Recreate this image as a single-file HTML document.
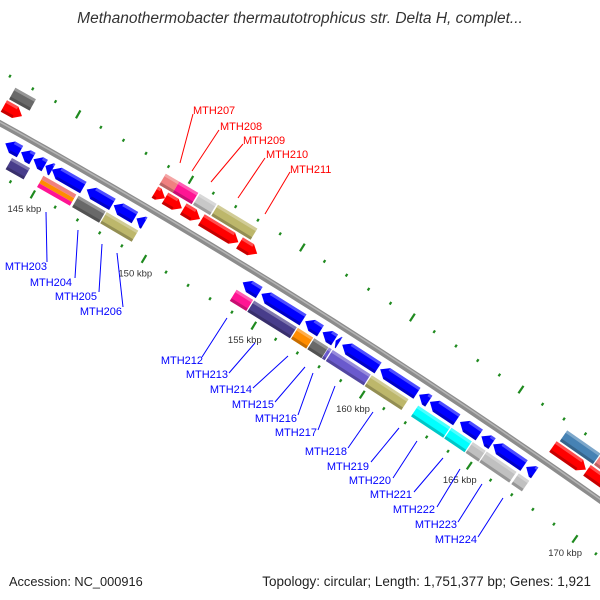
<!DOCTYPE html>
<html><head><meta charset="utf-8">
<style>
html,body{margin:0;padding:0;background:#fff;width:600px;height:600px;overflow:hidden;}
svg{display:block;overflow:hidden;}
text{font-family:"Liberation Sans",sans-serif;}
</style></head>
<body>
<svg id="map" width="600" height="600" viewBox="0 0 600 600" xmlns="http://www.w3.org/2000/svg">
<rect width="600" height="600" fill="#fff"/>
<text x="300" y="23" text-anchor="middle" font-size="15.5" font-style="italic" fill="#333">Methanothermobacter thermautotrophicus str. Delta H, complet...</text>
<g id="rulers"></g>
<g id="backbone"></g>
<g id="genes"></g>
<g id="labels"></g>
<text x="9" y="586" font-size="12.8" fill="#222">Accession: NC_000916</text>
<text x="591" y="586" text-anchor="end" font-size="13.5" fill="#222">Topology: circular; Length: 1,751,377 bp; Genes: 1,921</text>
</svg>
<script>
// ---- data (kbp) ----
const fwdCogStart = [142.4, 149.05, 149.65, 150.56, 151.38, 167.35, 168.95];
const fwdCogEnd   = [143.3, 149.65, 150.5, 151.32, 153.15, 168.9, 171.5];
const fwdCogColor = ["#696969","#F08080","#FF1493","#C8C8C8","#BDB76B","#4682B4","#F08080"];

const fwdStart = [142.35, 149.05, 149.5, 150.32, 151.13, 152.85, 167.25, 168.85];
const fwdEnd   = [143.15, 149.5, 150.26, 151.07, 152.8, 153.65, 168.8, 171.5];

const revStart = [143.1, 143.8, 144.35, 144.88, 145.17, 146.72, 147.93, 148.95, 153.75, 154.6, 156.6, 157.4, 158.0, 158.3, 160.05, 161.85, 162.35, 163.75, 164.75, 165.3, 166.85];
const revEnd   = [143.75, 144.3, 144.85, 145.18, 146.57, 147.87, 148.88, 149.3, 154.5, 156.5, 157.3, 157.95, 158.15, 159.95, 161.75, 162.3, 163.6, 164.65, 165.25, 166.75, 167.25];

const revCogStart = [143.6, 146.57, 147.83, 153.7, 154.5, 156.5, 157.25, 157.92, 158.1, 159.9, 162.05, 163.6, 164.6, 165.25, 166.75];
const revCogEnd   = [144.4, 147.78, 149.25, 154.45, 156.45, 157.2, 157.9, 158.05, 159.85, 161.6, 163.55, 164.55, 165.2, 166.65, 167.25];
const revCogColor = ["#483D8B","#696969","#BDB76B","#FF1493","#483D8B","#FF8C00","#696969","#6A5ACD","#6A5ACD","#BDB76B","#00FFFF","#00FFFF","#C0C0C0","#C0C0C0","#C0C0C0"];

const stripedStart = [145.0];
const stripedEnd = [146.47];
const stripeColors = ["#F08080","#FF8C00","#FF1493"];

const tickLabels = ["145 kbp","150 kbp","155 kbp","160 kbp","165 kbp","170 kbp"];
const tickLabelKbp = [145,150,155,160,165,170];

const fwdLabelNames = ["MTH207","MTH208","MTH209","MTH210","MTH211"];
const fwdLabelLine = [[180,163,193,114],[192,171,219,130],[211,182,243,144],[238,198,265,158],[265,214,290,172]];
const fwdLabelText = [[193,114],[220,130],[243,144],[266,158],[290,173]];

const revLabelNames = ["MTH203","MTH204","MTH205","MTH206","MTH212","MTH213","MTH214","MTH215","MTH216","MTH217","MTH218","MTH219","MTH220","MTH221","MTH222","MTH223","MTH224"];
const revLabelLine = [[47,262,46,212],[75,278,78,230],[99,292,102,244],[123,307,117,253],[202,357,227,318],[229,373,255,343],[253,388,288,356],[275,402,305,367],[298,415,313,373],[318,430,335,386],[348,448,373,412],[371,462,399,428],[393,478,417,441],[414,492,443,458],[437,507,460,469],[458,522,482,484],[478,537,503,498]];
const revLabelText = [[47,270],[72,286],[97,300],[122,315],[203,364],[228,378],[252,393],[274,408],[297,422],[317,436],[347,455],[369,470],[391,484],[412,498],[435,513],[457,528],[477,543]];

// ---- geometry ----
const CX=-3126, CY=5764, RB=6449;
function ang(k){ return (-60.44 + (k-145)*0.23)*Math.PI/180; }
function pt(k,r){ const a=ang(k); return [CX+r*Math.cos(a), CY+r*Math.sin(a)]; }
const NS="http://www.w3.org/2000/svg";
function mk(tag,attrs,parent){ const e=document.createElementNS(NS,tag); for(const k in attrs) e.setAttribute(k,attrs[k]); parent.appendChild(e); return e; }
function ptsStr(a){ return a.map(p=>p[0].toFixed(1)+","+p[1].toFixed(1)).join(" "); }

// rulers
const gR=document.getElementById('rulers');
[6495,6403].forEach(function(r){
  for(let k=138;k<=176;k++){
    const major=(k%5===0);
    const d=major?4.5:1.5;
    const a=pt(k,r-d), b=pt(k,r+d);
    const l=mk('line',{x1:a[0],y1:a[1],x2:b[0],y2:b[1],stroke:"#1f8a1f","stroke-width":2.2},gR);
    
    
  }
});
tickLabels.forEach(function(t,i){
  const p=pt(tickLabelKbp[i],6386);
  const e=mk('text',{x:p[0],y:p[1]+3,"text-anchor":"middle","font-size":"9.5",fill:"#333"},gR);
  e.textContent=t;
  
  
});

// backbone
const gB=document.getElementById('backbone');
let bb=[]; for(let k=138;k<=176;k+=0.5) bb.push(pt(k,RB));
const b1=mk('polyline',{points:ptsStr(bb),fill:"none",stroke:"#8c8c8c","stroke-width":6},gB);


let bb2=[]; for(let k=138;k<=176;k+=0.5) bb2.push(pt(k,RB+1));
const b2=mk('polyline',{points:ptsStr(bb2),fill:"none",stroke:"#b5b5b5","stroke-width":1.5},gB);



// genes
const gG=document.getElementById('genes');
function gene(s,e,rc,dir,color,name){
  const h=6.5, rIn=rc-h, rOut=rc+h;
  const len=e-s, head=Math.min(0.3,len*0.8);
  let poly;
  if(dir>0) poly=[pt(s,rIn),pt(s,rOut),pt(e-head,rOut),pt(e,rc),pt(e-head,rIn)];
  else if(dir<0) poly=[pt(e,rIn),pt(e,rOut),pt(s+head,rOut),pt(s,rc),pt(s+head,rIn)];
  else poly=[pt(s,rIn),pt(s,rOut),pt(e,rOut),pt(e,rIn)];
  const p=mk('polygon',{points:ptsStr(poly),fill:color},gG);
  
  
  let hi, sh;
  if(dir<0) hi=[pt(s+head,rOut-3),pt(s+head,rOut),pt(e,rOut),pt(e,rOut-3)];
  else if(dir>0) hi=[pt(s,rOut-3),pt(s,rOut),pt(e-head,rOut),pt(e-head,rOut-3)];
  else hi=[pt(s,rOut-3),pt(s,rOut),pt(e,rOut),pt(e,rOut-3)];
  const a=mk('polygon',{points:ptsStr(hi),fill:"#fff","fill-opacity":0.3},gG);
  
  
  if(dir>0) sh=[pt(s,rIn),pt(s,rIn+3),pt(e-head,rIn+3),pt(e-head,rIn)];
  else if(dir<0) sh=[pt(s+head,rIn),pt(s+head,rIn+3),pt(e,rIn+3),pt(e,rIn)];
  else sh=[pt(s,rIn),pt(s,rIn+3),pt(e,rIn+3),pt(e,rIn)];
  const b=mk('polygon',{points:ptsStr(sh),fill:"#000","fill-opacity":0.22},gG);
  
  
}
fwdCogStart.forEach((s,i)=>gene(s,fwdCogEnd[i],6481,0,fwdCogColor[i],'forward-cog-gene'));
fwdStart.forEach((s,i)=>gene(s,fwdEnd[i],6466,1,"#FF0000",'forward-gene'));
revStart.forEach((s,i)=>gene(s,revEnd[i],6434,-1,"#0000FF",'reverse-gene'));
revCogStart.forEach((s,i)=>gene(s,revCogEnd[i],6418,0,revCogColor[i],'reverse-cog-gene'));
stripedStart.forEach(function(s,i){
  const e=stripedEnd[i];
  stripeColors.forEach(function(c,j){
    const rO=6424.5-j*13/3, rI=rO-13/3;
    const p=mk('polygon',{points:ptsStr([pt(s,rI),pt(s,rO),pt(e,rO),pt(e,rI)]),fill:c},gG);
    
    
  });
});

// labels
const gL=document.getElementById('labels');
fwdLabelNames.forEach(function(n,i){
  const L=fwdLabelLine[i];
  const l=mk('line',{x1:L[0],y1:L[1],x2:L[2],y2:L[3],stroke:"#FF0000","stroke-width":1},gL);
  
  
  const t=mk('text',{x:fwdLabelText[i][0],y:fwdLabelText[i][1],"font-size":"11",fill:"#FF0000"},gL);
  t.textContent=n;
  
  
});
revLabelNames.forEach(function(n,i){
  const L=revLabelLine[i];
  const l=mk('line',{x1:L[0],y1:L[1],x2:L[2],y2:L[3],stroke:"#0000FF","stroke-width":1},gL);
  
  
  const t=mk('text',{x:revLabelText[i][0],y:revLabelText[i][1],"font-size":"11","text-anchor":"end",fill:"#0000FF"},gL);
  t.textContent=n;
  
  
});
</script>
</body></html>
